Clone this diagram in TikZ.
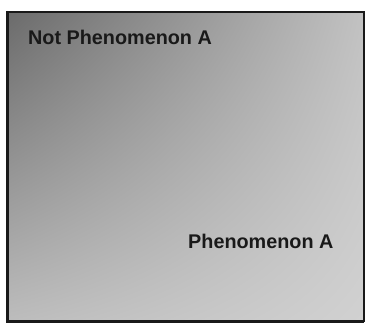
\documentclass[tikz,border=0pt]{standalone}
\usepackage{fontspec}
\setmainfont{Liberation Sans}
\usetikzlibrary{shadings}
\begin{document}
\begin{tikzpicture}[x=1pt,y=-1pt,
  lbl/.style={font=\fontsize{19.8}{22}\selectfont\bfseries, inner sep=0pt, anchor=base west, text=black!90}]
\useasboundingbox (0,0) rectangle (371,328);
\fill[white] (0,0) rectangle (371,328);
% gradient panel
\shade[upper left=black!58, upper right=black!24, lower left=black!26, lower right=black!18]
  (8,12) rectangle (364,321);
\draw[line width=2.5pt, black!90] (8,12) rectangle (364,321);
\draw[line width=2pt, black!90] (7,11) -- (7,322) -- (364,322);
% labels
\node[lbl] (notA) at (28,45) {Not Phenomenon A};
\node[lbl] (phA) at (188,248) {Phenomenon A};
\end{tikzpicture}
\end{document}
